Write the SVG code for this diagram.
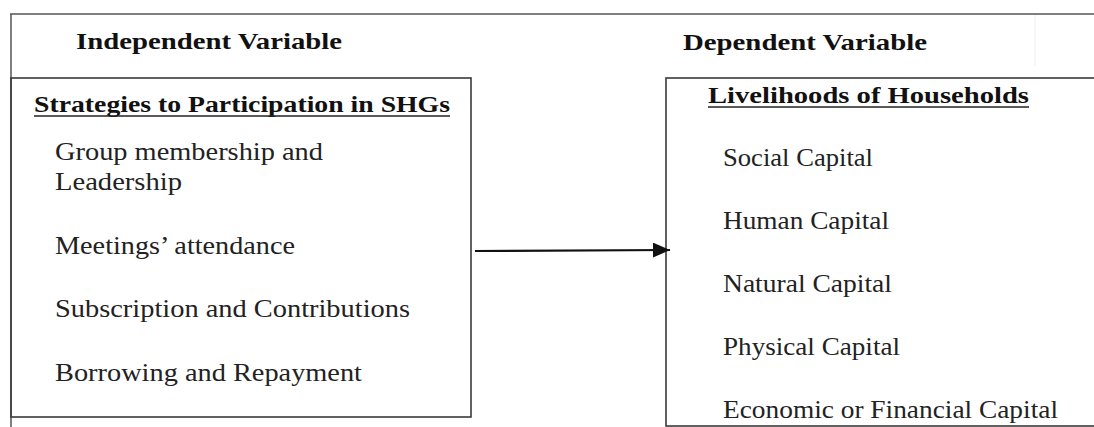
<svg xmlns="http://www.w3.org/2000/svg" width="1094" height="427" viewBox="0 0 1094 427">
<defs>
<style>
.frame{fill:none;stroke:#555;stroke-width:1.5}
.box{fill:none;stroke:#3a3a3a;stroke-width:1.6}
.hd{font-family:"Liberation Serif","Times New Roman",serif;font-weight:bold;font-size:23px;fill:#111}
.tt{font-family:"Liberation Serif","Times New Roman",serif;font-weight:bold;font-size:24px;fill:#111}
.it{font-family:"Liberation Serif","Times New Roman",serif;font-size:26px;fill:#222}
.ul{stroke:#222;stroke-width:1.5}
.conn{stroke:#111;stroke-width:2.2;fill:none}
</style>
<marker id="arrow" markerWidth="17" markerHeight="15" refX="17" refY="7.5" orient="auto" markerUnits="userSpaceOnUse">
<path d="M0,0 L17,7.5 L0,15 Z" fill="#111"/>
</marker>
</defs>
<rect width="1094" height="427" fill="#fff"/>
<g id="frame">
<line class="frame" x1="10" y1="14" x2="1094" y2="14"/>
<line class="frame" x1="11" y1="14" x2="11" y2="427"/>
<line x1="1035" y1="15" x2="1035" y2="66" stroke="#eee" stroke-width="1"/>
</g>
<g id="label-independent">
<text class="hd" x="76" y="49" textLength="266" lengthAdjust="spacingAndGlyphs">Independent Variable</text>
</g>
<g id="label-dependent">
<text class="hd" x="683" y="50" textLength="244" lengthAdjust="spacingAndGlyphs">Dependent Variable</text>
</g>
<g id="node-strategies">
<rect class="box" x="11" y="78" width="460" height="339"/>
<text class="tt" x="34" y="112" textLength="416" lengthAdjust="spacingAndGlyphs">Strategies to Participation in SHGs</text>
<line class="ul" x1="34" y1="116" x2="450" y2="116"/>
<text class="it" x="55" y="160" textLength="268" lengthAdjust="spacingAndGlyphs">Group membership and</text>
<text class="it" x="55" y="190" textLength="127" lengthAdjust="spacingAndGlyphs">Leadership</text>
<text class="it" x="55" y="254" textLength="240" lengthAdjust="spacingAndGlyphs">Meetings’ attendance</text>
<text class="it" x="55" y="317" textLength="355" lengthAdjust="spacingAndGlyphs">Subscription and Contributions</text>
<text class="it" x="55" y="381" textLength="307" lengthAdjust="spacingAndGlyphs">Borrowing and Repayment</text>
</g>
<g id="node-livelihoods">
<rect class="box" x="666" y="78" width="440" height="348"/>
<text class="tt" x="708" y="103" textLength="321" lengthAdjust="spacingAndGlyphs">Livelihoods of Households</text>
<line class="ul" x1="708" y1="107" x2="1029" y2="107"/>
<text class="it" x="723" y="166" textLength="150" lengthAdjust="spacingAndGlyphs">Social Capital</text>
<text class="it" x="723" y="229" textLength="166" lengthAdjust="spacingAndGlyphs">Human Capital</text>
<text class="it" x="723" y="292" textLength="169" lengthAdjust="spacingAndGlyphs">Natural Capital</text>
<text class="it" x="723" y="355" textLength="177" lengthAdjust="spacingAndGlyphs">Physical Capital</text>
<text class="it" x="723" y="418" textLength="335" lengthAdjust="spacingAndGlyphs">Economic or Financial Capital</text>
</g>
<g id="connectors">
<line class="conn" x1="475" y1="251" x2="670" y2="250" marker-end="url(#arrow)"/>
</g>
</svg>
